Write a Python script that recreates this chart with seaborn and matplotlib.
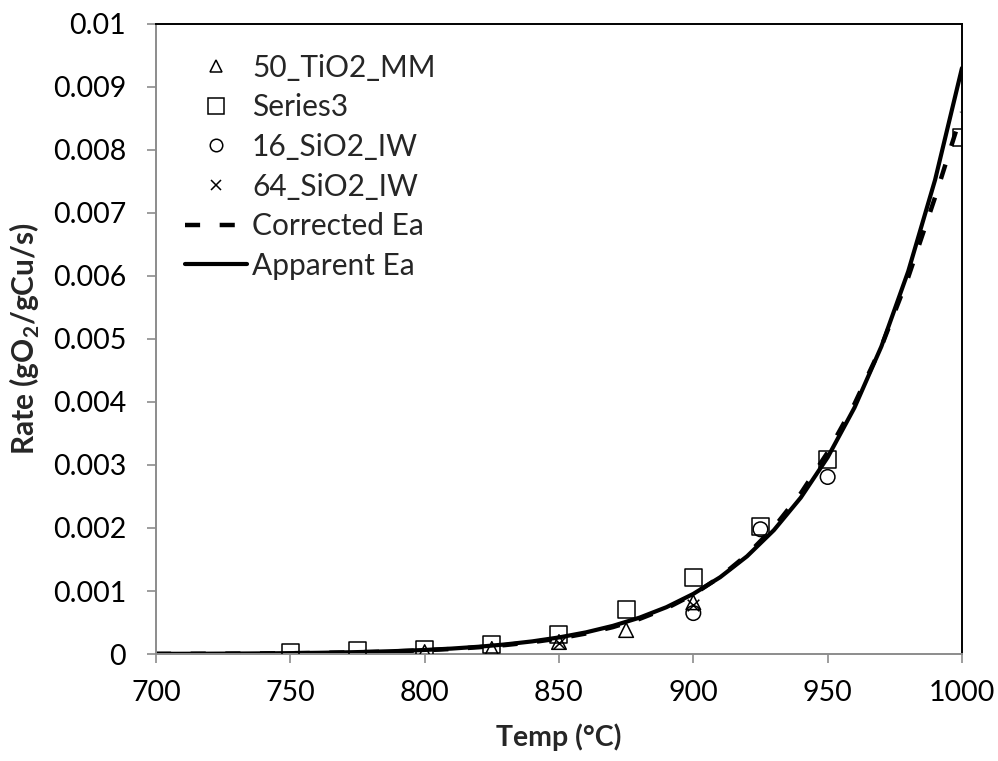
import numpy as np
import pandas as pd
import matplotlib
matplotlib.use("Agg")
import matplotlib.pyplot as plt
from matplotlib.lines import Line2D
import seaborn as sns

# Measured oxygen release rates (gO2/gCu/s) vs temperature (°C)
temp_tio2 = [800, 825, 850, 875, 900]
rate_tio2 = [0.00003, 0.00008, 0.00019, 0.00038, 0.00082]

temp_s3 = [750, 775, 800, 825, 850, 875, 900, 925, 950, 1000]
rate_s3 = [0.00002, 0.00005, 0.00007, 0.00015, 0.00031, 0.00070, 0.00122, 0.00203, 0.00308, 0.00820]

temp_sio2_16 = [900, 925, 950]
rate_sio2_16 = [0.00065, 0.00198, 0.00281]

temp_sio2_64 = [850, 900]
rate_sio2_64 = [0.00018, 0.00078]

# Kinetic model curves
temp_model = [700, 710, 720, 730, 740, 750, 760, 770, 780, 790, 800,
              810, 820, 830, 840, 850, 860, 870, 880, 890, 900,
              910, 920, 930, 940, 950, 960, 970, 980, 990, 1000]
rate_apparent = [2.5e-6, 3.5e-6, 5.0e-6, 7.0e-6, 9.8e-6, 1.36e-5, 1.88e-5, 2.58e-5, 3.5e-5, 4.75e-5, 6.4e-5,
                 8.6e-5, 1.15e-4, 1.52e-4, 2.0e-4, 2.63e-4, 3.43e-4, 4.46e-4, 5.77e-4, 7.43e-4, 9.54e-4,
                 1.219e-3, 1.551e-3, 1.966e-3, 2.482e-3, 3.121e-3, 3.911e-3, 4.881e-3, 6.074e-3, 7.527e-3, 9.3e-3]
rate_corrected = [2.3e-6, 3.3e-6, 4.6e-6, 6.5e-6, 9.1e-6, 1.26e-5, 1.75e-5, 2.4e-5, 3.25e-5, 4.4e-5, 5.95e-5,
                  8.0e-5, 1.07e-4, 1.42e-4, 1.87e-4, 2.47e-4, 3.25e-4, 4.26e-4, 5.57e-4, 7.25e-4, 9.45e-4,
                  1.225e-3, 1.575e-3, 2.01e-3, 2.55e-3, 3.2e-3, 3.97e-3, 4.88e-3, 5.98e-3, 7.25e-3, 8.6e-3]

x_ticks = [700, 750, 800, 850, 900, 950, 1000]
y_ticks = [0, 0.001, 0.002, 0.003, 0.004, 0.005, 0.006, 0.007, 0.008, 0.009, 0.01]
y_tick_labels = ["0", "0.001", "0.002", "0.003", "0.004", "0.005",
                 "0.006", "0.007", "0.008", "0.009", "0.01"]

sns.set_theme(style="white")
plt.rcParams["font.family"] = ["Lato", "DejaVu Sans"]
plt.rcParams["mathtext.fontset"] = "custom"
plt.rcParams["mathtext.rm"] = "Lato"
plt.rcParams["mathtext.bf"] = "Lato:bold"

fig = plt.figure(figsize=(9.98, 7.61), dpi=100)
ax = fig.add_axes([0.1563, 0.1406, 0.8076, 0.8279])

dash = (0, (3.4, 4.4))

model = pd.DataFrame({"T": temp_model, "app": rate_apparent, "corr": rate_corrected})
sns.lineplot(data=model, x="T", y="corr", ax=ax, color="black", lw=3.2,
             linestyle=dash, estimator=None, sort=False)
sns.lineplot(data=model, x="T", y="app", ax=ax, color="black", lw=3.0,
             estimator=None, sort=False)

mk_lw = 1.1
sns.scatterplot(x=temp_tio2, y=rate_tio2, ax=ax, marker="^", s=110,
                color="black", facecolor="none", edgecolor="black", linewidth=mk_lw, zorder=5)
sns.scatterplot(x=temp_s3, y=rate_s3, ax=ax, marker="s", s=150,
                color="black", facecolor="none", edgecolor="black", linewidth=mk_lw, zorder=5)
sns.scatterplot(x=temp_sio2_16, y=rate_sio2_16, ax=ax, marker="o", s=110,
                color="black", facecolor="none", edgecolor="black", linewidth=mk_lw, zorder=5)
sns.scatterplot(x=temp_sio2_64, y=rate_sio2_64, ax=ax, marker="x", s=70,
                color="black", linewidth=mk_lw, zorder=5)

ax.set_xlim(700, 1000)
ax.set_ylim(0, 0.01)
ax.set_xticks(x_ticks)
ax.set_xticklabels([str(t) for t in x_ticks])
ax.set_yticks(y_ticks)
ax.set_yticklabels(y_tick_labels)

ax.tick_params(axis="both", which="major", direction="out", length=6.5, width=1.2,
               color="#8c8c8c", labelsize=20.5, labelcolor="black", left=True, bottom=True)
ax.tick_params(axis="y", pad=15)
ax.tick_params(axis="x", pad=12)

for side in ("left", "bottom"):
    ax.spines[side].set_color("#8c8c8c")
    ax.spines[side].set_linewidth(1.4)
for side in ("top", "right"):
    ax.spines[side].set_color("black")
    ax.spines[side].set_linewidth(1.4)
    ax.spines[side].set_visible(True)

ax.set_xlabel("Temp (°C)", fontsize=20.5, fontweight="bold", labelpad=13)
ax.set_ylabel(r"Rate (gO$_\mathbf{2}$/gCu/s)", fontsize=21.5, fontweight="bold", labelpad=8)

handles = [
    Line2D([], [], ls="none", marker="^", ms=9, mfc="none", mec="black", mew=mk_lw),
    Line2D([], [], ls="none", marker="s", ms=11, mfc="none", mec="black", mew=mk_lw),
    Line2D([], [], ls="none", marker="o", ms=9, mfc="none", mec="black", mew=mk_lw),
    Line2D([], [], ls="none", marker="x", ms=7, color="black", mew=mk_lw),
    Line2D([], [], color="black", lw=3.2, ls=dash),
    Line2D([], [], color="black", lw=3.0),
]
labels = ["50_TiO2_MM", "Series3", "16_SiO2_IW", "64_SiO2_IW", "Corrected Ea", "Apparent Ea"]
ax.legend(handles, labels, loc="upper left", bbox_to_anchor=(0.036, 0.953),
          frameon=False, fontsize=21.5, handlelength=2.07, handletextpad=0.17,
          labelspacing=0.39, borderpad=0, borderaxespad=0)

fig.savefig("out.png", dpi=100)
